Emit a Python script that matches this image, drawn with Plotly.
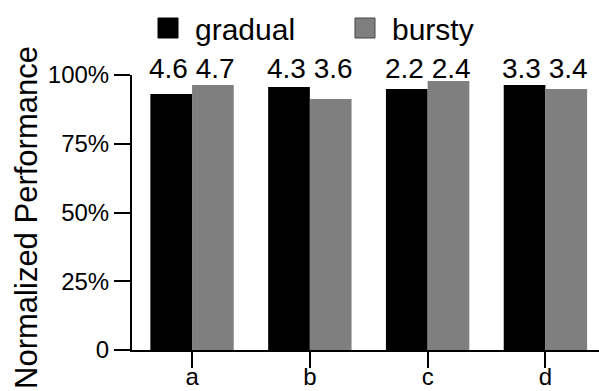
import plotly.graph_objects as go

# Workloads and normalized performance (%) per traffic pattern
categories = ["a", "b", "c", "d"]
gradual = [93.1, 95.6, 94.9, 96.4]
bursty = [96.4, 91.3, 97.8, 94.9]

# Values printed above each bar pair (gradual, bursty)
gradual_labels = ["4.6", "4.3", "2.2", "3.3"]
bursty_labels = ["4.7", "3.6", "2.4", "3.4"]

y_tickvals = [0, 25, 50, 75, 100]
y_ticktext = ["0", "25%", "50%", "75%", "100%"]

FONT = "Liberation Sans, Arial, Helvetica, sans-serif"
BLACK = "#000000"
GREY = "#7f7f7f"

fig = go.Figure()
fig.add_trace(go.Bar(x=categories, y=gradual, name="gradual",
                     marker=dict(color=BLACK, line=dict(width=0)),
                     offsetgroup="g", showlegend=False))
fig.add_trace(go.Bar(x=categories, y=bursty, name="bursty",
                     marker=dict(color=GREY, line=dict(width=0)),
                     offsetgroup="b", showlegend=False))

# Value pair printed in a row just above the 100% line, one per category
annotations = []
for i, cat in enumerate(categories):
    annotations.append(dict(
        x=cat, y=1.022, xref="x", yref="paper",
        text=f"{gradual_labels[i]} {bursty_labels[i]}",
        showarrow=False, xanchor="center", yanchor="middle",
        font=dict(family=FONT, size=28, color="black")))

# Rotated y-axis title
annotations.append(dict(
    x=-0.226, y=0.482, xref="paper", yref="paper",
    text="Normalized Performance", textangle=-90, showarrow=False,
    xanchor="center", yanchor="middle",
    font=dict(family=FONT, size=31, color="black")))

# Legend drawn as swatches with text
shapes = []
legend_items = [("gradual", BLACK, "#000000", 158), ("bursty", GREY, "#444444", 355)]
for name, fill, edge, px in legend_items:
    shapes.append(dict(type="rect", xref="paper", yref="paper",
                       x0=(px - 132) / 467, x1=(px + 20 - 132) / 467,
                       y0=(350 - 38) / 275, y1=(350 - 18) / 275,
                       fillcolor=fill, line=dict(color=edge, width=1)))
    annotations.append(dict(
        x=(px + 35 - 132) / 467, y=(350 - 29) / 275, xref="paper", yref="paper",
        text=name, showarrow=False, xanchor="left", yanchor="middle",
        font=dict(family=FONT, size=30, color="black")))

fig.update_layout(
    width=599, height=391,
    margin=dict(l=132, r=0, t=75, b=41, autoexpand=False),
    paper_bgcolor="white", plot_bgcolor="white",
    barmode="group", bargap=0.292, bargroupgap=0,
    font=dict(family=FONT, size=24, color="black"),
    annotations=annotations, shapes=shapes,
    xaxis=dict(range=[-0.51, 3.455], showline=True, linecolor="black", linewidth=2,
               ticks="outside", ticklen=16, tickwidth=2, tickcolor="black",
               showgrid=False, zeroline=False, ticklabelstandoff=-12, automargin=False,
               tickfont=dict(family=FONT, size=24, color="black")),
    yaxis=dict(range=[0, 100], showline=True, linecolor="black", linewidth=2,
               ticks="outside", ticklen=16, tickwidth=2, tickcolor="black",
               tickvals=y_tickvals, ticktext=y_ticktext, automargin=False,
               showgrid=False, zeroline=False,
               tickfont=dict(family=FONT, size=24, color="black")),
)

fig.write_html("out.html")
